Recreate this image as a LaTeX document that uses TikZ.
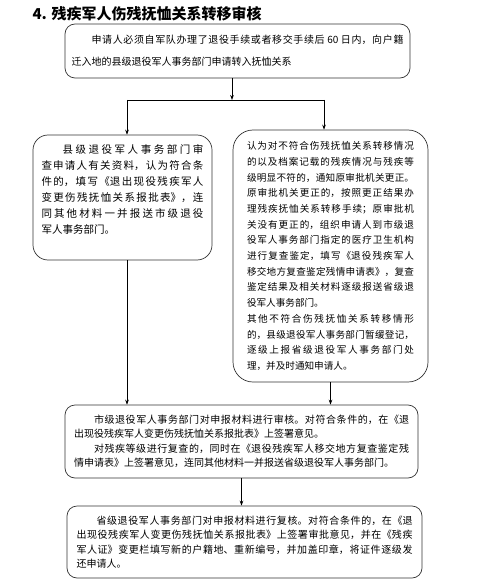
\documentclass[tikz,border=0pt]{standalone}
\usepackage{fontspec}
\setmainfont{Noto Sans CJK SC}
\usetikzlibrary{arrows.meta}
\XeTeXlinebreaklocale "zh"
\XeTeXlinebreakskip=0pt plus 2pt

\begin{document}
\begin{tikzpicture}[x=1pt,y=-1pt,
  box/.style={draw=black!80, line width=0.7pt, align=justify, inner xsep=0pt, inner ysep=0pt},
  arr/.style={-{Stealth[length=5pt,width=3.6pt]}, line width=0.6pt}]

  \useasboundingbox (0,0) rectangle (480,585); %% page size

  \node[anchor=west, font=\fontsize{15}{18}\selectfont\bfseries] (title) at (29,14)
  {4. 残疾军人伤残抚恤关系转移审核};

  \node[box, rounded corners=10pt, minimum width=345pt, minimum height=54pt,
    text width=332pt, font=\fontsize{10}{22}\selectfont] (apply) at (237.5,51)
  {\hspace*{2em}申请人必须自军队办理了退役手续或者移交手续后 60 日内，向户籍\linebreak 迁入地的县级退役军人事务部门申请转入抚恤关系};

  \node[box, rounded corners=15pt, minimum width=179pt, minimum height=125pt,
    text width=162pt, font=\fontsize{10.5}{16}\selectfont] (county) at (122.5,197.5)
  {\hspace*{2em}县级退役军人事务部门审\linebreak 查申请人有关资料，认为符合条\linebreak 件的，填写《退出现役残疾军人\linebreak 变更伤残抚恤关系报批表》，连\linebreak 同其他材料一并报送市级退役\linebreak 军人事务部门。\par\mbox{}};

  \node[box, rounded corners=20pt, minimum width=195pt, minimum height=252pt,
    text width=167pt, font=\fontsize{9.6}{15.7}\selectfont] (review) at (330.5,256)
  {认为对不符合伤残抚恤关系转移情况\linebreak 的以及档案记载的残疾情况与残疾等\linebreak 级明显不符的，通知原审批机关更正。\linebreak 原审批机关更正的，按照更正结果办\linebreak 理残疾抚恤关系转移手续；原审批机\linebreak 关没有更正的，组织申请人到市级退\linebreak 役军人事务部门指定的医疗卫生机构\linebreak 进行复查鉴定，填写《退役残疾军人\linebreak 移交地方复查鉴定残情申请表》，复查\linebreak 鉴定结果及相关材料逐级报送省级退\linebreak 役军人事务部门。\par 其他不符合伤残抚恤关系转移情形\linebreak 的，县级退役军人事务部门暂缓登记，\linebreak 逐级上报省级退役军人事务部门处\linebreak 理，并及时通知申请人。};

  \node[box, rounded corners=10pt, minimum width=353pt, minimum height=73pt,
    text width=335pt, font=\fontsize{10}{14.5}\selectfont] (city) at (241.5,441.5)
  {\hspace*{2em}市级退役军人事务部门对申报材料进行审核。对符合条件的，在《退\linebreak 出现役残疾军人变更伤残抚恤关系报批表》上签署意见。\par\hspace*{2em}对残疾等级进行复查的，同时在《退役残疾军人移交地方复查鉴定残\linebreak 情申请表》上签署意见，连同其他材料一并报送省级退役军人事务部门。};

  \node[box, rounded corners=10pt, minimum width=355pt, minimum height=72pt,
    text width=336pt, font=\fontsize{10}{14.5}\selectfont] (province) at (244.5,542)
  {\hspace*{2em}省级退役军人事务部门对申报材料进行复核。对符合条件的，在《退\linebreak 出现役残疾军人变更伤残抚恤关系报批表》上签署审批意见，并在《残疾\linebreak 军人证》变更栏填写新的户籍地、重新编号，并加盖印章，将证件逐级发\linebreak 还申请人。};

  \coordinate (split) at (232,100);
  \coordinate (splitL) at (127,100);
  \coordinate (splitR) at (324,100);

  \draw[arr] (apply.south -| split) -- (split);
  \draw[line width=0.6pt] (splitL) -- (splitR);
  \draw[arr] (splitL) -- (county.north -| splitL);
  \draw[arr] (splitR) -- (review.north -| splitR);
  \draw[arr] (county.south -| splitL) -- (city.north -| splitL);
  \draw[arr] (review.south) -- (city.north -| review.south);
  \draw[arr] (city.south) -- (province.north -| city.south);

\end{tikzpicture}
\end{document}
